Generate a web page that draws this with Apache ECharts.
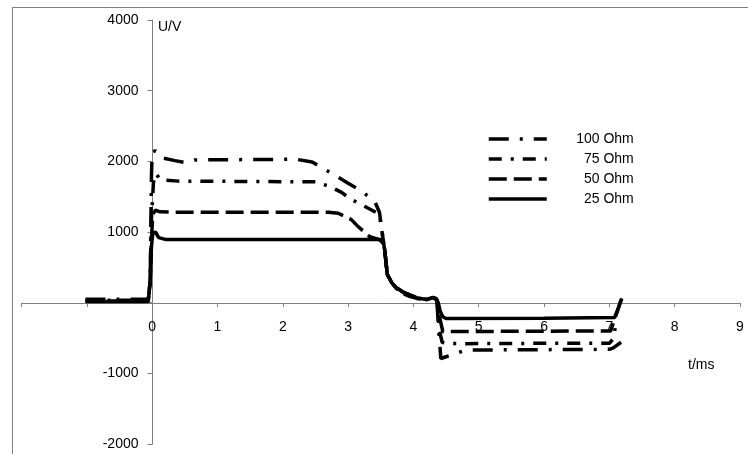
<!DOCTYPE html>
<html>
<head>
<meta charset="utf-8">
<script src="https://cdn.jsdelivr.net/npm/echarts@6/dist/echarts.min.js"></script>
<style>html,body{margin:0;padding:0;background:#fff;}#c{width:748px;height:454px;}</style>
</head>
<body>
<div id="c"></div>
<script>
// Series names (legend order)
var seriesNames = ['100 Ohm', '75 Ohm', '50 Ohm', '25 Ohm'];
// x axis (t/ms) tick labels shown, y axis (U/V) ticks
var xTickLabels = [0, 1, 2, 3, 4, 5, 6, 7, 8, 9];
var yTickLabels = [-2000, -1000, 0, 1000, 2000, 3000, 4000];

// [t (ms), U (V)]
var ohm100 = [[-1.02,50],[-0.06,50],[-0.03,300],[-0.01,1800],[0.0,2130],[0.05,2150],[0.15,2050],[0.35,2010],[0.5,1985],[0.65,2020],[1.5,2025],[2.2,2030],[2.45,1990],[2.64,1890],[2.82,1790],[3.0,1690],[3.21,1575],[3.41,1430],[3.48,1280],[3.52,1000],[3.56,750],[3.6,400],[3.67,280],[3.74,210],[3.84,150],[3.94,110],[4.05,70],[4.2,45],[4.3,70],[4.36,40],[4.38,-300],[4.42,-790],[4.5,-765],[4.65,-720],[4.8,-670],[6.0,-665],[7.0,-660],[7.06,-640],[7.18,-560]];
var ohm75 = [[-1.02,35],[-0.06,35],[-0.03,300],[-0.01,1200],[0.02,1700],[0.06,1830],[0.12,1740],[0.4,1720],[1.5,1715],[2.5,1710],[2.72,1645],[2.9,1560],[3.05,1460],[3.28,1350],[3.48,1250],[3.52,1000],[3.56,750],[3.6,400],[3.67,280],[3.74,210],[3.84,150],[3.94,110],[4.05,70],[4.2,45],[4.3,70],[4.36,40],[4.4,-400],[4.44,-560],[4.5,-575],[4.8,-580],[6.0,-575],[7.0,-575],[7.05,-520],[7.09,-360]];
var ohm50 = [[-1.02,25],[-0.06,25],[-0.03,300],[-0.01,900],[0.01,1250],[0.05,1310],[0.12,1285],[0.3,1280],[1.5,1280],[2.7,1280],[2.85,1265],[3.05,1175],[3.15,1080],[3.33,935],[3.48,890],[3.52,860],[3.56,750],[3.6,400],[3.67,280],[3.74,200],[3.84,130],[3.94,90],[4.05,60],[4.2,45],[4.3,70],[4.36,40],[4.4,-200],[4.45,-410],[5.5,-405],[7.02,-400],[7.1,-180],[7.19,70]];
var ohm25 = [[-1.02,15],[-0.06,15],[-0.03,300],[-0.01,800],[0.01,980],[0.05,1000],[0.1,920],[0.2,895],[1.5,895],[3.51,895],[3.54,860],[3.56,750],[3.6,400],[3.67,280],[3.74,210],[3.84,150],[3.94,110],[4.05,70],[4.2,45],[4.3,75],[4.35,60],[4.38,0],[4.41,-120],[4.45,-200],[4.5,-225],[6.0,-220],[7.08,-210],[7.13,-100],[7.19,60]];

var seriesData = [ohm100, ohm75, ohm50, ohm25];
var dashes = [[20, 11, 3, 11], [13, 9, 3, 9], [18, 7], 'solid'];

var FONT = '"Liberation Sans", Arial, sans-serif';
var AXIS = '#7f7f7f';

var chart = echarts.init(document.getElementById('c'), null, {renderer: 'canvas'});
chart.setOption({
  animation: false,
  backgroundColor: '#fff',
  textStyle: {fontFamily: FONT},
  grid: {left: 21.5, right: 8, top: 20, bottom: 10, containLabel: false, outerBoundsMode: 'none'},
  xAxis: {
    type: 'value', min: -2, max: 9, interval: 1,
    position: 'bottom', offset: -141,
    axisLine: {onZero: false, lineStyle: {color: AXIS, width: 1}},
    axisTick: {show: true, length: 4, lineStyle: {color: AXIS}},
    splitLine: {show: false},
    axisLabel: {
      color: '#000', fontSize: 14, fontFamily: FONT, margin: 17,
      formatter: function (v) { return xTickLabels.indexOf(v) >= 0 ? String(v) : ''; }
    }
  },
  yAxis: {
    type: 'value', min: -2000, max: 4000, interval: 1000,
    position: 'left', offset: -131,
    axisLine: {onZero: false, lineStyle: {color: AXIS, width: 1}},
    axisTick: {show: true, length: 5, lineStyle: {color: AXIS}},
    splitLine: {show: false},
    axisLabel: {
      color: '#000', fontSize: 14, fontFamily: FONT, margin: 14,
      formatter: function (v) { return (v !== 0 && yTickLabels.indexOf(v) >= 0) ? String(v) : ''; }
    }
  },
  legend: {
    orient: 'vertical', left: 482, top: 127,
    itemWidth: 58, itemHeight: 14, itemGap: 6,
    data: seriesNames,
    itemStyle: {opacity: 0},
    lineStyle: {width: 3.5, color: '#000'},
    formatter: '{a|{name}}',
    textStyle: {
      color: '#000', fontSize: 14, fontFamily: FONT,
      rich: {a: {width: 82, align: 'right', fontSize: 14, fontFamily: FONT, color: '#000'}}
    }
  },
  graphic: [
    {type: 'line', shape: {x1: 12, y1: 7.5, x2: 748, y2: 7.5}, style: {stroke: AXIS, lineWidth: 1}, silent: true},
    {type: 'line', shape: {x1: 12.5, y1: 7, x2: 12.5, y2: 454}, style: {stroke: AXIS, lineWidth: 1}, silent: true},
    {type: 'text', left: 158, top: 20, style: {text: 'U/V', fill: '#000', font: '14px ' + FONT}},
    {type: 'text', left: 688, top: 358, style: {text: 't/ms', fill: '#000', font: '14px ' + FONT}}
  ],
  series: seriesNames.map(function (name, i) {
    return {
      name: name, type: 'line', data: seriesData[i],
      symbol: 'none', smooth: false,
      lineStyle: {color: '#000', width: 3.5, type: dashes[i]},
      itemStyle: {color: '#000'},
      z: 3
    };
  })
});
</script>
</body>
</html>
